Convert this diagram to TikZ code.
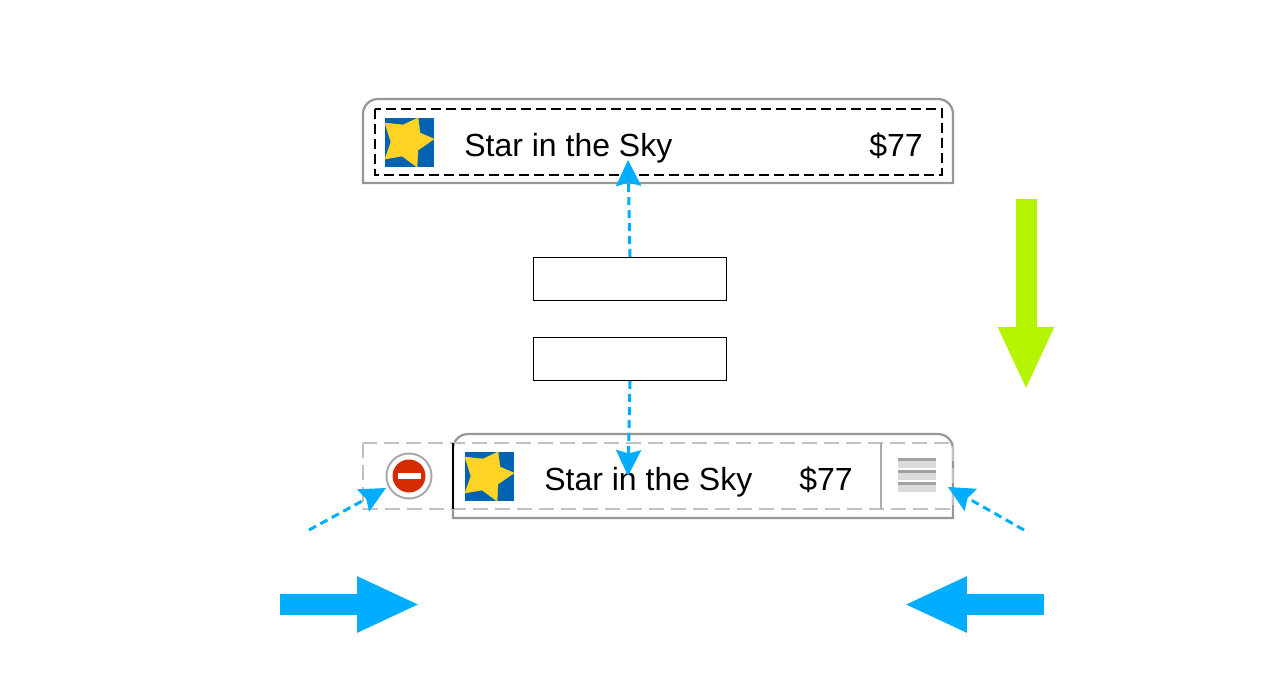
\documentclass[tikz,border=0pt]{standalone}
\usepackage{fontspec}
\setmainfont{Liberation Sans}
\usetikzlibrary{arrows.meta}
\definecolor{rowgray}{HTML}{979797}
\definecolor{editgray}{HTML}{C0C0C0}
\definecolor{tipblue}{HTML}{00ADFF}
\definecolor{movegreen}{HTML}{B4F400}
\definecolor{iconblue}{HTML}{0062B1}
\definecolor{iconyellow}{HTML}{FFD324}
\definecolor{minusred}{HTML}{D42B00}
\tikzset{
  rowbox/.style={draw=rowgray, line width=.045cm, fill=white},
  rowtext/.style={anchor=base west, font=\fontsize{18.2pt}{20pt}\selectfont, inner sep=0pt},
  blankbox/.style={draw=black, line width=.02cm, fill=white, minimum width=3.86cm, minimum height=.86cm, inner sep=0pt},
  tiparrow/.style={tipblue, line width=.06cm, dash pattern=on .16cm off .1cm, -{Stealth[length=.52cm,width=.5cm,inset=.07cm]}},
  movearrow/.style={line width=.42cm, -{Triangle[length=1.26cm,width=1.03cm]}},
  pics/staricon/.style={code={
    \fill[iconblue] (0,0) rectangle (49,49);
    \draw[iconyellow, fill=iconyellow, line width=.01cm] (33,0) -- (35,15) -- (49,21) -- (33,32) -- (32,49) -- (17,38) -- (0,41) -- (6,24) -- (0,5) -- (18,7) -- cycle;
  }}
}
\begin{document}
\begin{tikzpicture}[x=.02cm, y=-.02cm]
  \useasboundingbox (0,0) rectangle (1271,679);
  % top row
  \draw[rowbox] (363,183) [rounded corners=.3cm] -- (363,99) -- (953,99) [sharp corners] -- (953,183) -- cycle;
  \draw[black, line width=.04cm, dash pattern=on .2cm off .1cm] (375,109) rectangle (942,175);
  \pic at (385,118) {staricon};
  \node[rowtext] (toptitle) at (464,156) {Star in the Sky};
  \node[rowtext] (topprice) at (869,156) {\$77};
  % boxes in the middle
  \node[blankbox] (upperbox) at (630,279) {};
  \node[blankbox] (lowerbox) at (630,359) {};
  % bottom row
  \draw[rowbox] (453,518) [rounded corners=.3cm] -- (453,434) -- (953,434) [sharp corners] -- (953,518) -- cycle;
  \draw[editgray, line width=.04cm, dash pattern=on .3cm off .14cm] (363,443) rectangle (953,509);
  \draw[black, line width=.04cm] (453,443) -- (453,509);
  \draw[rowgray!80, line width=.04cm] (881,443) -- (881,509);
  \pic at (465,452) {staricon};
  \node[rowtext] (bottomtitle) at (544,490) {Star in the Sky};
  \node[rowtext] (bottomprice) at (799,490) {\$77};
  % delete button
  \fill[black!35] (409,476) circle (23.5);
  \node[circle, fill=white, minimum size=.86cm, inner sep=0pt] (minusring) at (409,476) {};
  \node[circle, fill=minusred, minimum size=.66cm, inner sep=0pt] (minusdisc) at (409,476) {};
  \fill[white] (398,473) rectangle (421,479);
  % reorder control
  \foreach \y in {458,470,482} {
    \fill[black!14] (898,\y) rectangle (936,\y+10);
    \fill[black!37] (898,\y) rectangle (936,\y+3);
  }
  % dashed arrows
  \coordinate (toptip) at (628,160);
  \coordinate (bottomtip) at (628,476);
  \coordinate (minusstart) at (309,530);
  \coordinate (minustip) at (386,488);
  \coordinate (handlestart) at (1024,530);
  \coordinate (handletip) at (948,487);
  \draw[tiparrow] (upperbox.north) -- (toptip);
  \draw[tiparrow] (lowerbox.south) -- (bottomtip);
  \draw[tiparrow] (minusstart) -- (minustip);
  \draw[tiparrow] (handlestart) -- (handletip);
  % big arrows
  \coordinate (downstart) at (1026,199);
  \coordinate (downtip) at (1026,390);
  \coordinate (rightstart) at (280,604.5);
  \coordinate (righttip) at (420,604.5);
  \coordinate (leftstart) at (1044,604.5);
  \coordinate (lefttip) at (904,604.5);
  \draw[movearrow, movegreen] (downstart) -- (downtip);
  \draw[movearrow, tipblue] (rightstart) -- (righttip);
  \draw[movearrow, tipblue] (leftstart) -- (lefttip);
\end{tikzpicture}
\end{document}
